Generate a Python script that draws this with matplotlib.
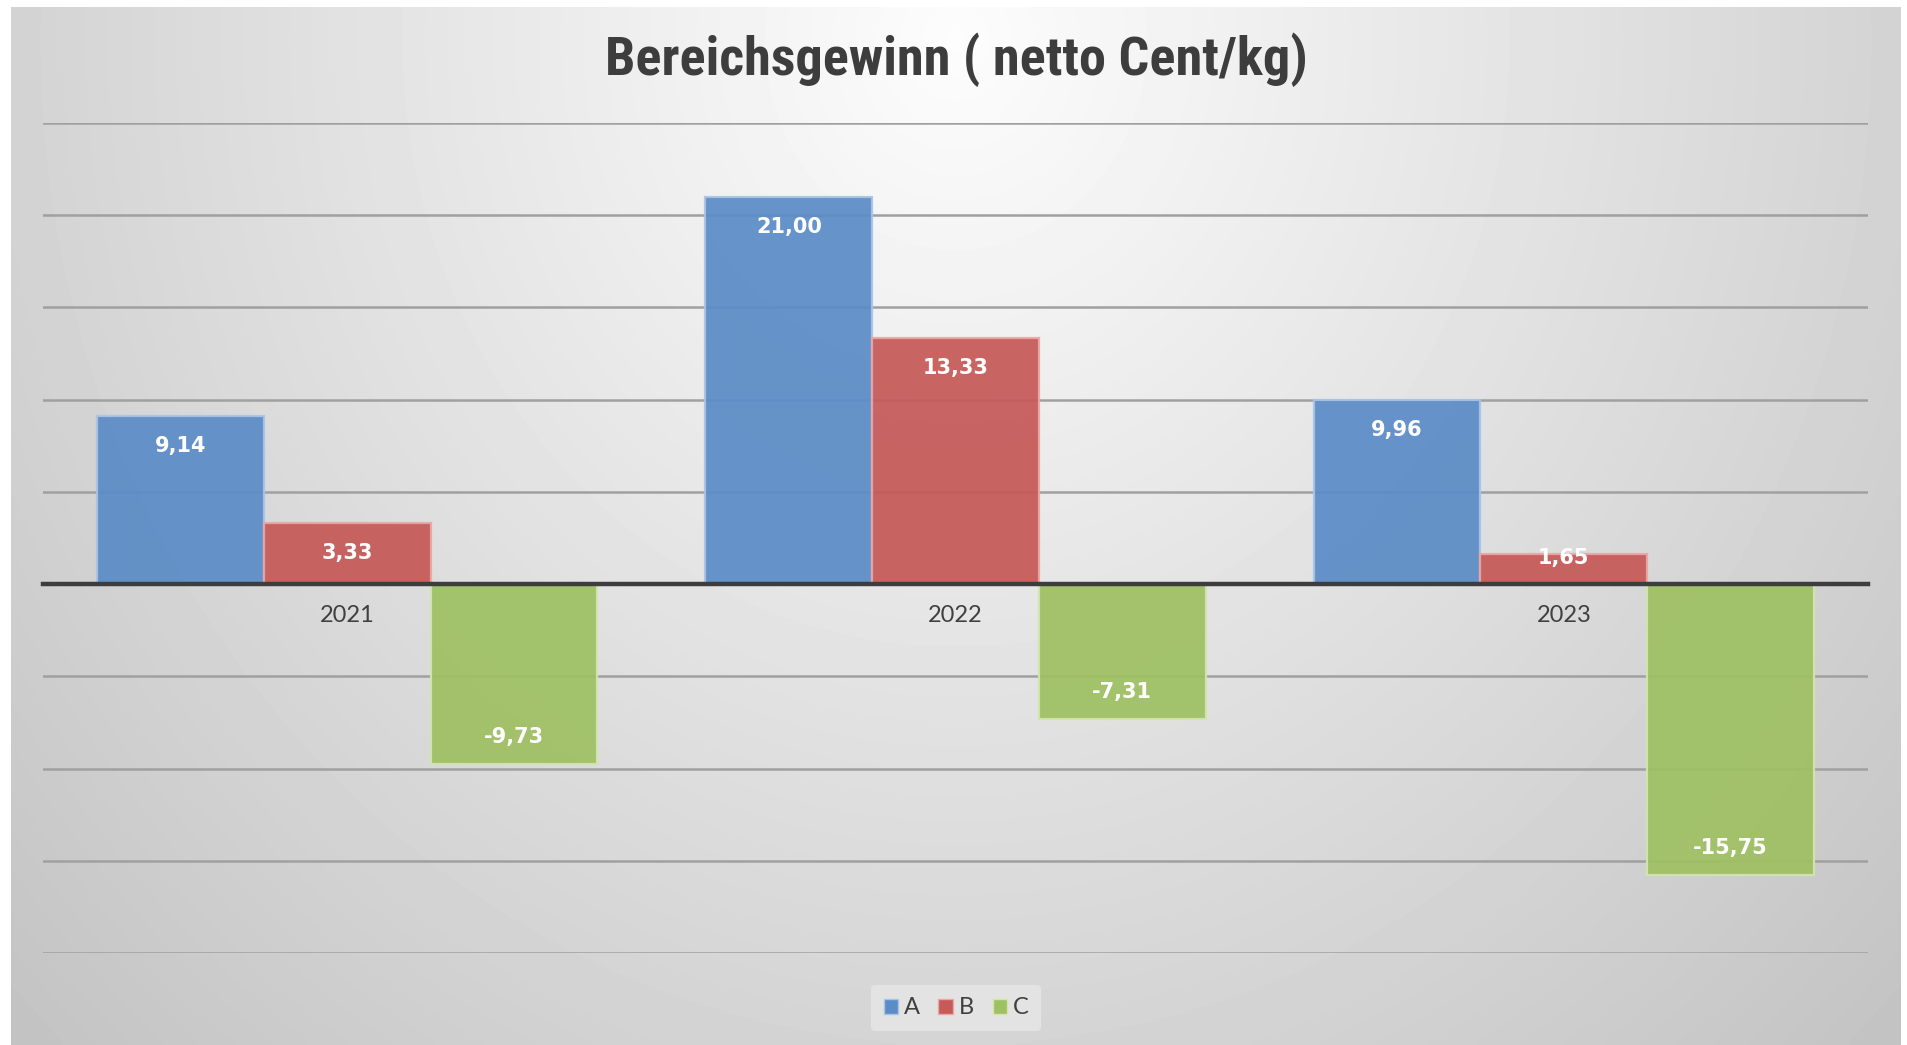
import numpy as np
import matplotlib
matplotlib.use("Agg")
import matplotlib.pyplot as plt
from matplotlib.patches import Patch
from matplotlib import font_manager as fm

# ---------------- data ----------------
years = ["2021", "2022", "2023"]
series_names = ["A", "B", "C"]
values_A = [9.14, 21.00, 9.96]
values_B = [3.33, 13.33, 1.65]
values_C = [-9.73, -7.31, -15.75]
y_ticks = [-20, -15, -10, -5, 0, 5, 10, 15, 20, 25]
title_text = "Bereichsgewinn ( netto Cent/kg)"

# ---------------- fonts ----------------
avail = {f.name for f in fm.fontManager.ttflist}
def pick(cands):
    for c in cands:
        if c in avail:
            return c
    return "DejaVu Sans"
narrow = pick(["Liberation Sans Narrow", "Roboto Condensed", "Open Sans Condensed", "Roboto", "Lato"])
regular = pick(["Lato", "Open Sans", "Noto Sans", "DejaVu Sans"])

W, H = 1908, 1045
fig = plt.figure(figsize=(W / 100, H / 100), dpi=100)
fig.patch.set_facecolor("white")

# background panel with radial gradient
bg = fig.add_axes([0, 0, 1, 1], zorder=-10)
bg.set_xlim(0, W)
bg.set_ylim(H, 0)
bg.axis("off")
px0, px1, py0, py1 = 11, 1901, 7, 1045
nx, ny = 400, 220
xx, yy = np.meshgrid(np.linspace(0, 1, nx), np.linspace(0, 1, ny))
r = np.sqrt(((xx - 0.5) / 0.5) ** 2 + ((yy - 0.03) / 1.0) ** 2) / np.sqrt(2)
val = np.clip(0.99 - 0.23 * r, 0, 1)
bg.imshow(val, cmap="gray", vmin=0, vmax=1, extent=[px0, px1, py1, py0],
          aspect="auto", interpolation="bicubic")

# main axes
left, right = 43 / W, 1868 / W
top_px, bot_px = 123, 953
ax = fig.add_axes([left, 1 - bot_px / H, right - left, (bot_px - top_px) / H])
ax.set_facecolor("none")
ax.set_xlim(-0.5, len(years) - 0.5)
ax.set_ylim(min(y_ticks), max(y_ticks))

for t in y_ticks:
    if t != 0:
        ax.axhline(t, color="#a0a0a0", lw=1.8, zorder=1)

colors = ["#5b8cc6", "#c55a58", "#9fc063"]
edges = ["#a9c4e6", "#eaa7a6", "#d2e5ae"]
bw = 0.274
x = np.arange(len(years))
all_vals = [values_A, values_B, values_C]
px_per_unit = (bot_px - top_px) / (max(y_ticks) - min(y_ticks))
for i, (vals, c, e) in enumerate(zip(all_vals, colors, edges)):
    xs = x + (i - 1) * bw
    ax.bar(xs, vals, width=bw, color=c, alpha=0.93, edgecolor=e, linewidth=1.6,
           zorder=2, label=series_names[i])
    for xv, v in zip(xs, vals):
        bar_px = abs(v) * px_per_unit
        if v > 0:
            off = -min(30, bar_px - 26)
        else:
            off = min(27, bar_px - 26)
        ax.annotate(f"{v:.2f}".replace(".", ","), (xv, v), xytext=(0, off),
                    textcoords="offset pixels", ha="center", va="center",
                    color="white", fontsize=15, fontweight="bold", family="DejaVu Sans", zorder=5)

# axis at zero
for s in ["top", "right", "left"]:
    ax.spines[s].set_visible(False)
ax.spines["bottom"].set_position(("data", 0))
ax.spines["bottom"].set_color("#3d3d3d")
ax.spines["bottom"].set_linewidth(3.2)
ax.spines["bottom"].set_zorder(4)
ax.set_xticks(x)
ax.set_xticklabels(years, fontsize=17, color="#404040", family=regular)
ax.tick_params(axis="x", length=0, pad=15)
ax.set_yticks([])

# title
title = fig.text(956 / W, 1 - 60 / H, title_text, ha="center", va="center",
                 fontsize=34, fontweight="bold", color="#3d3d3d", family=narrow)
fig.canvas.draw()
wpx = title.get_window_extent().width
title.set_fontsize(34 * 702 / wpx)

# legend
handles = [Patch(facecolor=c, edgecolor=e, linewidth=1.0) for c, e in zip(colors, edges)]
leg = fig.legend(handles, series_names, loc="center", bbox_to_anchor=(956 / W, 1 - 1008 / H),
                 ncol=3, frameon=True, handlelength=0.6, handleheight=0.6,
                 handletextpad=0.25, columnspacing=0.8, borderpad=0.55,
                 prop={"family": regular, "size": 17})
leg.get_frame().set_facecolor("#e3e3e3")
leg.get_frame().set_edgecolor("none")
leg.get_frame().set_alpha(1)
for t in leg.get_texts():
    t.set_color("#404040")

fig.savefig("out.png", dpi=100)
